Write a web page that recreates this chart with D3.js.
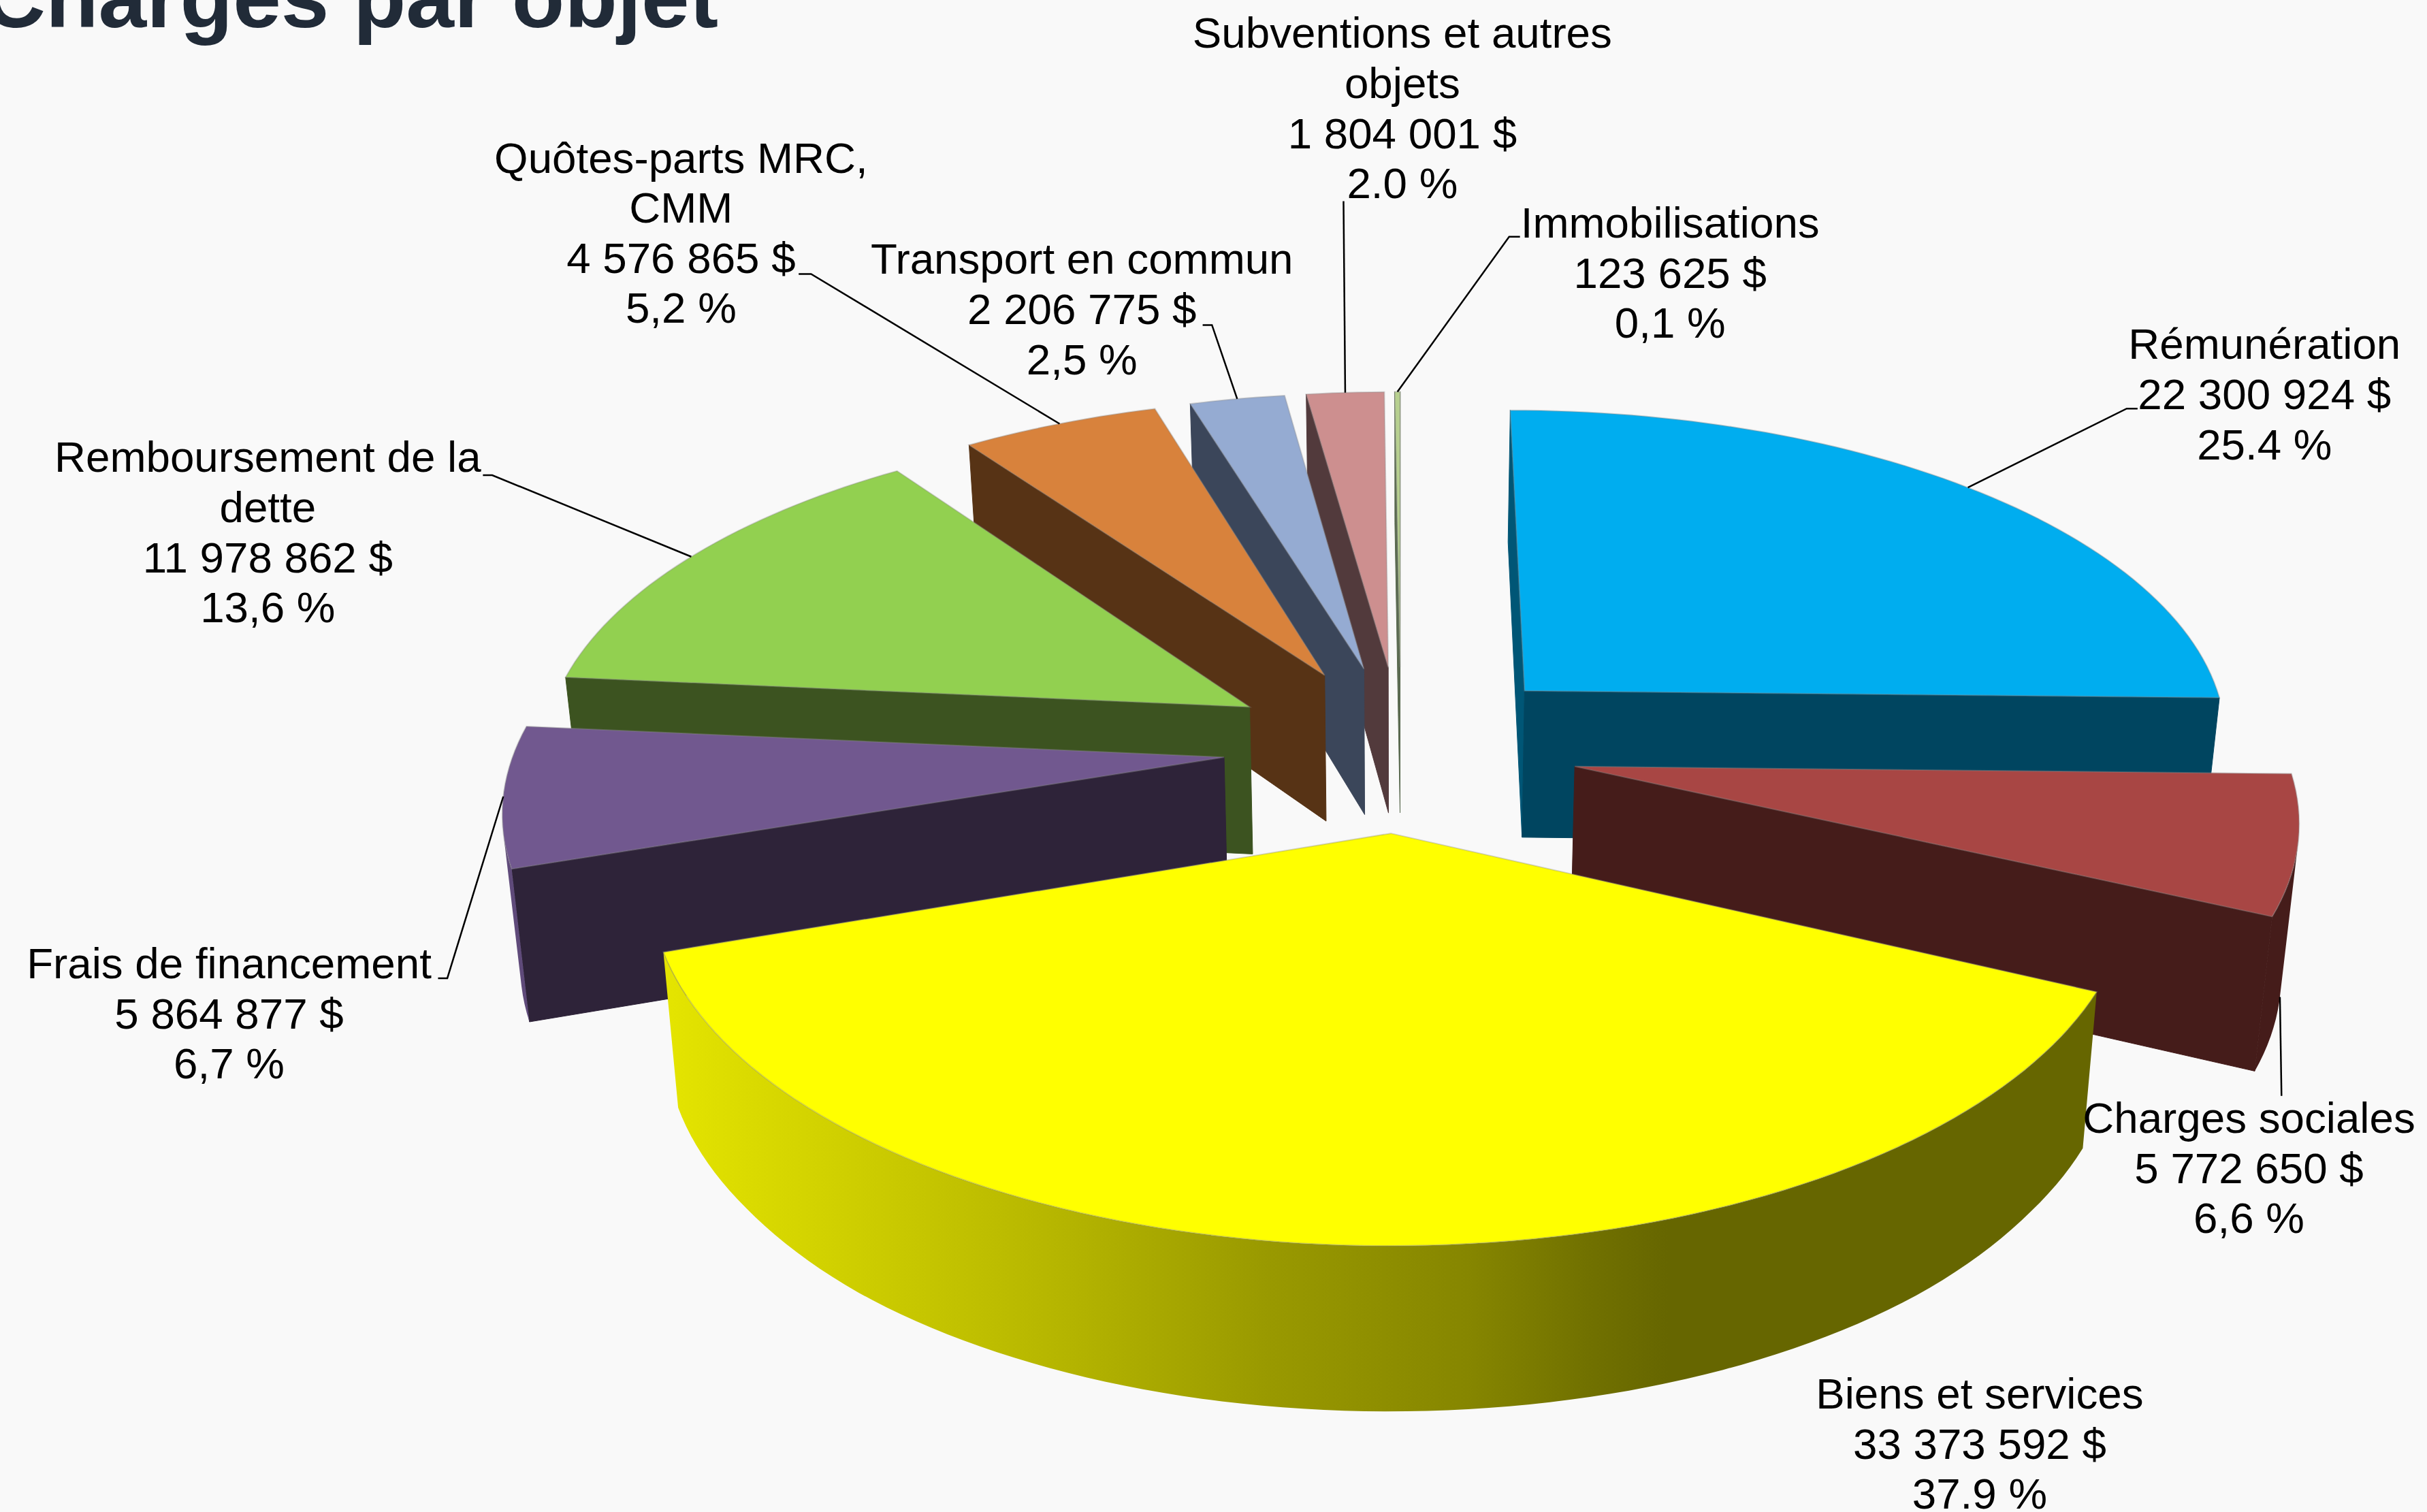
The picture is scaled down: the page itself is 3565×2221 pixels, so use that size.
<!DOCTYPE html>
<html><head><meta charset="utf-8">
<script src="https://cdn.jsdelivr.net/npm/d3@7/dist/d3.min.js"></script>
<style>html,body{margin:0;padding:0;background:#f9f9f9}svg{display:block}text{font-family:"Liberation Sans",Arial,sans-serif}</style>
</head><body><svg id="c" width="3565" height="2221"></svg>
<script>
// ---- data ----
const categories = ["Rémunération","Charges sociales","Biens et services","Frais de financement","Remboursement de la dette","Quôtes-parts MRC, CMM","Transport en commun","Subventions et autres objets","Immobilisations"];
const values = [22300924,5772650,33373592,5864877,11978862,4576865,2206775,1804001,123625];
const amountLabels = ["22 300 924 $","5 772 650 $","33 373 592 $","5 864 877 $","11 978 862 $","4 576 865 $","2 206 775 $","1 804 001 $","123 625 $"];
const percentLabels = ["25.4 %","6,6 %","37.9 %","6,7 %","13,6 %","5,2 %","2,5 %","2.0 %","0,1 %"];
const nameLines = [["Rémunération"],["Charges sociales"],["Biens et services"],["Frais de financement"],["Remboursement de la","dette"],["Quôtes-parts MRC,","CMM"],["Transport en commun"],["Subventions et autres","objets"],["Immobilisations"]];
const titleText = "Charges par objet";

// ---- styles ----
const topColors  = ["#00adef","#a84644","#ffff00","#71588f","#92d050","#d8823c","#95abd2","#cd8f8f","#b7d08f"];
const wallColors = ["#004560","#451c1a","#666600","#2e2339","#3c5320","#573315","#3b465a","#523a3c","#5a6a50"];
const startWallColors = ["#005676","#451c1a","#666600","#2e2339","#3c5320","#573315","#3b465a","#523a3c","#5a6a50"];
const arcColors  = ["#004f6e","#451c1a","url(#biens)","#5f4a7a","#3c5320","#573315","#3b465a","#523a3c","#5a6a50"];

// ---- layout, measured in 1568-wide units and scaled to the page ----
const S = 3565/1568;
const cx=905, cy=483, F=458, G=214.6, k=0.1335, explode=0.25, baseShrink=0.98;
const dropScale = d3.scaleLinear().domain([-1.2,-0.25,0.5,0.82,1.0,1.25]).range([85,94,100,102,105,107]);
const labelPos = [[1463,232],[1453,732],[1279,910],[148,632],[173,305],[440,111.5],[699,177],[906,31],[1079,153.5]];
const leaderStart = [[[1381,264],[1374,264]],[[1474,708]],[],[[283,632],[289,632]],[[312,307],[318,307]],[[516,177],[524,177]],[[777,210],[783,210]],[[868,130]],[[982,153],[975,153]]];
const FONT=63.7, LINE=73.6;

const svg = d3.select("#c");
const defs = svg.append("defs");
const grad = defs.append("linearGradient").attr("id","biens").attr("gradientUnits","userSpaceOnUse")
  .attr("x1",985).attr("x2",2450).attr("y1",0).attr("y2",0);
[[0,"#e4e400"],[0.2,"#cccc00"],[0.4,"#b4b400"],[0.6,"#999900"],[0.8,"#868600"],[0.92,"#717100"],[1,"#666600"]]
  .forEach(s=>grad.append("stop").attr("offset",s[0]).attr("stop-color",s[1]));

svg.append("rect").attr("width",3565).attr("height",2221).attr("fill","#f9f9f9");

const pie = d3.pie().sort(null).startAngle(0).endAngle(2*Math.PI);
const arcs = pie(values);

// world point (X right, Y toward viewer) -> top plane and base plane
const topP = ([X,Y])=>{const w=1-k*Y; return [(cx+F*X/w)*S,(cy+G*Y/w)*S];};
const baseP = ([X,Y])=>{const w=1-k*Y; return [(cx+baseShrink*F*X/w)*S,(cy+G*Y/w+dropScale(Y))*S];};
const off = a=>{const m=(a.startAngle+a.endAngle)/2; return [explode*Math.sin(m),-explode*Math.cos(m)];};
const rim = (a,t)=>{const o=off(a); return [o[0]+Math.sin(t),o[1]-Math.cos(t)];};
const line = d3.line();
const closed = pts=>line(pts)+"Z";
const visible = (p,q)=>d3.polygonArea([topP(p),topP(q),baseP(q),baseP(p)])>0;

const order = d3.range(values.length).sort((i,j)=>off(arcs[i])[1]-off(arcs[j])[1]);
const pies = svg.append("g");
order.forEach(i=>{
  const a=arcs[i], apex=off(a), g=pies.append("g").attr("class","slice");
  const n=Math.max(2,Math.ceil((a.endAngle-a.startAngle)/0.025));
  const ts=d3.range(n+1).map(j=>a.startAngle+(a.endAngle-a.startAngle)*j/n);
  const pts=ts.map(t=>rim(a,t));
  const wall=(p,q,fill)=>{ if(visible(p,q)) g.append("path").attr("d",closed([topP(p),topP(q),baseP(q),baseP(p)])).attr("fill",fill).attr("stroke",fill).attr("stroke-width",1); };
  wall(apex,pts[0],startWallColors[i]);
  // outer curved wall: contiguous front-facing runs
  let run=[];
  const flush=()=>{ if(run.length>1){ const tp=run.map(topP), bp=run.map(baseP).reverse();
      g.append("path").attr("d",closed(tp.concat(bp))).attr("fill",arcColors[i]); } run=[]; };
  for(let j=0;j<n;j++){
    if(visible(pts[j],pts[j+1])){ if(!run.length) run.push(pts[j]); run.push(pts[j+1]); } else flush();
  }
  flush();
  wall(pts[n],apex,wallColors[i]);
  g.append("path").attr("d",closed([apex].concat(pts).map(topP))).attr("fill",topColors[i])
    .attr("stroke","rgba(140,140,140,.35)").attr("stroke-width",2);
});

// title, clipped by the top-left of the page as in the source
svg.append("text").attr("x",1055).attr("y",40).attr("text-anchor","end")
  .attr("font-size",127).attr("font-weight","bold").attr("fill","#212b38").text(titleText);

// leaders
const leaders = svg.append("g").attr("fill","none").attr("stroke","#000").attr("stroke-width",2.5);
arcs.forEach((a,i)=>{
  if(!leaderStart[i].length) return;
  const m=(a.startAngle+a.endAngle)/2, p=rim(a,m);
  const end = i===1 ? baseP(p) : topP(p);
  leaders.append("path").attr("d",line(leaderStart[i].map(d=>[d[0]*S,d[1]*S]).concat([end])));
});

// labels
const labels = svg.append("g").attr("font-size",FONT).attr("fill","#000").attr("text-anchor","middle");
categories.forEach((c,i)=>{
  const lines = nameLines[i].concat([amountLabels[i],percentLabels[i]]);
  const t = labels.append("text");
  lines.forEach((l,j)=>t.append("tspan").attr("x",labelPos[i][0]*S).attr("y",labelPos[i][1]*S+j*LINE).text(l));
});
</script></body></html>
